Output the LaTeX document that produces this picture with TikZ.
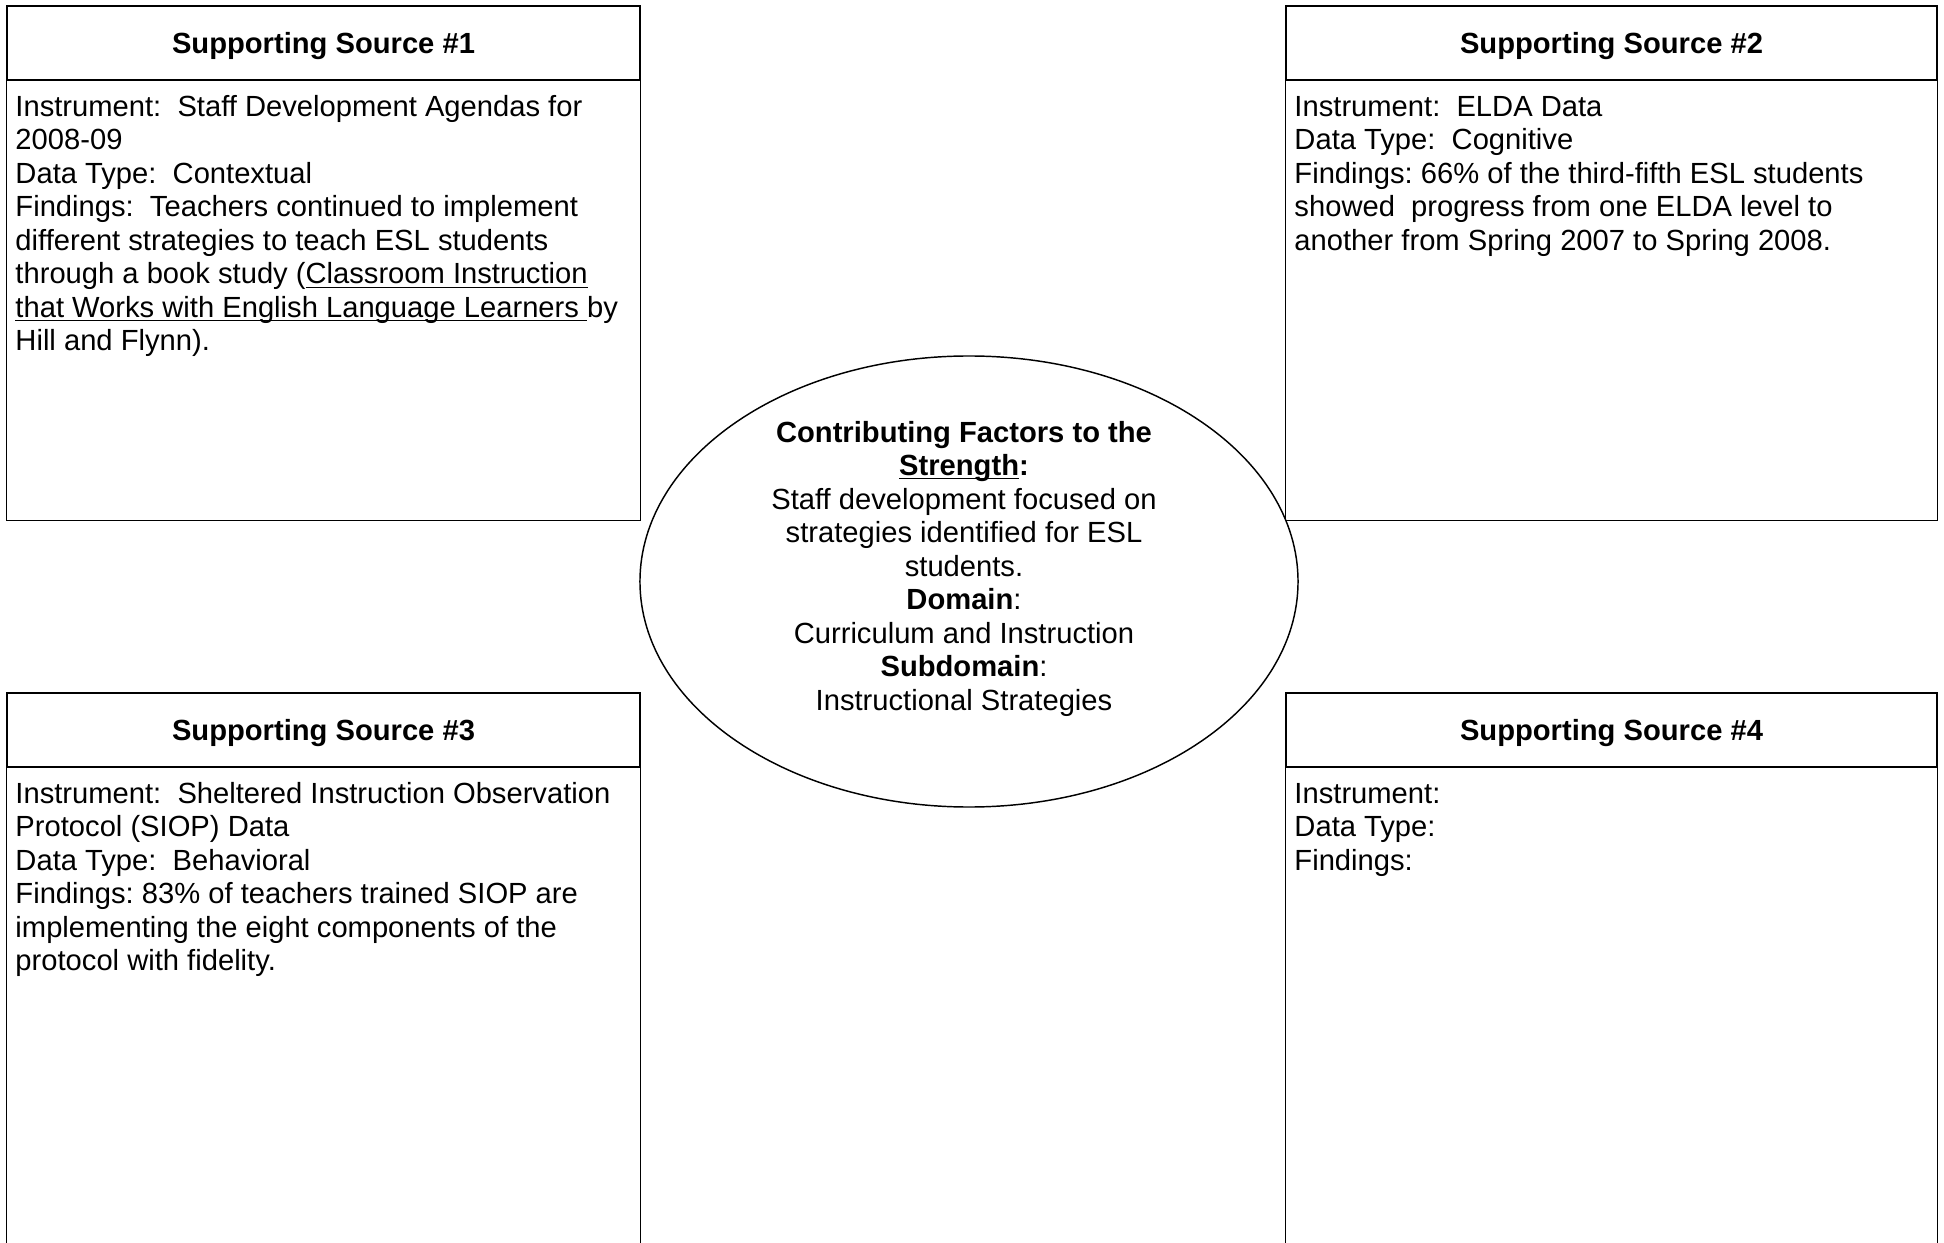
\documentclass[tikz,border=0pt]{standalone}
\usepackage{fontspec}
\setmainfont{Liberation Sans}
\usetikzlibrary{shapes.geometric}
\frenchspacing

\newcommand{\ulpart}[1]{\underline{\smash{#1}}}

\tikzset{
  srchead/.style={draw, line width=0.6pt, font=\bfseries\fontsize{12}{13.8}\selectfont,
    text depth=0pt, inner sep=0pt, minimum height=30.45pt},
  srcbody/.style={font=\fontsize{12}{13.8}\selectfont, align=left, anchor=base west, inner sep=0pt},
  srcline/.style={line width=0.6pt},
  factor/.style={draw, ellipse, line width=0.6pt, inner sep=0pt,
    minimum width=270.8pt, minimum height=185.6pt},
  factortext/.style={font=\fontsize{12}{13.8}\selectfont, align=center, anchor=base, inner sep=0pt}
}

\begin{document}
\begin{tikzpicture}[x=0.4115pt, y=-0.4115pt]
        \clip (0,0) rectangle (1944,1243);
        \coordinate (bottom) at (0,1260);

        % text nodes are placed at the baseline of their last line

        % Source #1 (top left)
        \node[srchead, minimum width=260.5pt] (headA) at (323.5,43) {Supporting Source \#1};
        \draw[srcline] (headA.south west) -- ++(0,440) -| (headA.south east);
        \node[srcbody] (bodyA) at (15,350.8) {Instrument:\ \ Staff Development Agendas for\\
          2008-09\\
          Data Type:\ \ Contextual\\
          Findings:\ \ Teachers continued to implement\\
          different strategies to teach ESL students\\
          through a book study (\ulpart{Classroom Instruction}\\
          \ulpart{that Works with English Language Learners\ }by\\
          Hill and Flynn).};

        % Source #2 (top right)
        \node[srchead, minimum width=267.9pt] (headB) at (1611.5,43) {Supporting Source \#2};
        \draw[srcline] (headB.south west) -- ++(0,440) -| (headB.south east);
        \node[srcbody] (bodyB) at (1294,250.2) {Instrument:\ \ ELDA Data\\
          Data Type:\ \ Cognitive\\
          Findings: 66\% of the third-fifth ESL students\\
          showed\ \ progress from one ELDA level to\\
          another from Spring 2007 to Spring 2008.};

        % Source #3 (bottom left), runs off the page
        \node[srchead, minimum width=260.5pt] (headC) at (323.5,730) {Supporting Source \#3};
        \draw[srcline] (headC.south west) -- (headC.south west |- bottom);
        \draw[srcline] (headC.south east) -- (headC.south east |- bottom);
        \node[srcbody] (bodyC) at (15,970.7) {Instrument:\ \ Sheltered Instruction Observation\\
          Protocol (SIOP) Data\\
          Data Type:\ \ Behavioral\\
          Findings: 83\% of teachers trained SIOP are\\
          implementing the eight components of the\\
          protocol with fidelity.};

        % Source #4 (bottom right), left empty
        \node[srchead, minimum width=267.9pt] (headD) at (1611.5,730) {Supporting Source \#4};
        \draw[srcline] (headD.south west) -- (headD.south west |- bottom);
        \draw[srcline] (headD.south east) -- (headD.south east |- bottom);
        \node[srcbody] (bodyD) at (1294,870.1) {Instrument:\\
          Data Type:\\
          Findings:};

        % Centre ellipse with the strength
        \node[factor] (factors) at (969,581.5) {};
        \node[factortext] (factorsText) at (964,710.3) {\textbf{Contributing Factors to the}\\
          \textbf{\ulpart{Strength}:}\\
          Staff development focused on\\
          strategies identified for ESL\\
          students.\\
          \textbf{Domain}:\\
          Curriculum and Instruction\\
          \textbf{Subdomain}:\\
          Instructional Strategies};
      \end{tikzpicture}
\end{document}
